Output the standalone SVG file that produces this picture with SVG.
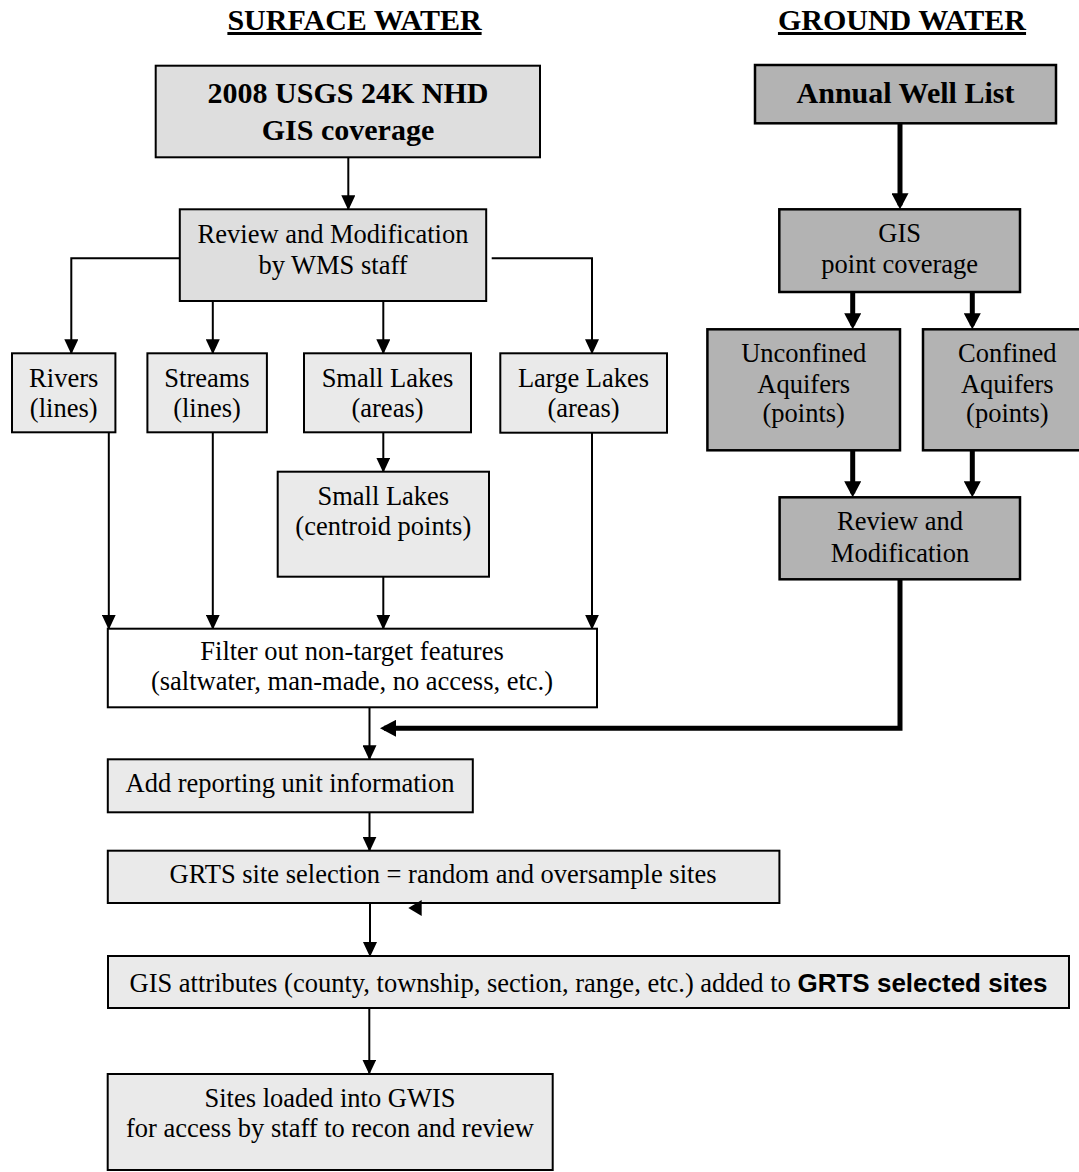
<svg xmlns="http://www.w3.org/2000/svg" width="1079" height="1172" viewBox="0 0 1079 1172">
<style>
  .t{font-family:"Liberation Serif","Times New Roman",serif;font-size:26.5px;text-anchor:middle;fill:#000}
  .bt{font-weight:bold;font-size:30px}
  .title{font-family:"Liberation Serif","Times New Roman",serif;font-weight:bold;font-size:30px;text-anchor:middle;text-decoration:underline}
  .sans{font-family:"Liberation Sans",Arial,sans-serif;font-weight:bold;font-size:26px}
  .box{stroke:#000;stroke-width:2}
  .gw{fill:#b3b3b3;stroke:#000;stroke-width:2.5}
  .l1{fill:#dedede}
  .l2{fill:#eaeaea}
  .wh{fill:#fff}
  .c{fill:none;stroke:#000;stroke-width:2}
  .ck{fill:none;stroke:#000;stroke-width:5}
</style>
<defs>
  <marker id="a" markerUnits="userSpaceOnUse" markerWidth="15" markerHeight="14" refX="14" refY="7" orient="auto">
    <path d="M0,0 L15,7 L0,14 z" fill="#000"/>
  </marker>
  <marker id="ak" markerUnits="userSpaceOnUse" markerWidth="16" markerHeight="17" refX="12" refY="8.5" orient="auto">
    <path d="M0,0 L16,8.5 L0,17 z" fill="#000"/>
  </marker>
</defs>
<rect width="1079" height="1172" fill="#fff"/>

<g id="titles">
  <text class="title" x="354.5" y="30">SURFACE WATER</text>
  <text class="title" x="902" y="30">GROUND WATER</text>
</g>

<g id="connectors">
  <line class="c" x1="348.3" y1="157.3" x2="348.3" y2="209.3" marker-end="url(#a)"/>
  <path class="c" d="M180,258.3 H71.3 V353.3" marker-end="url(#a)"/>
  <line class="c" x1="212.8" y1="301" x2="212.8" y2="353.3" marker-end="url(#a)"/>
  <line class="c" x1="383.3" y1="301" x2="383.3" y2="353.3" marker-end="url(#a)"/>
  <path class="c" d="M491.7,258.3 H592 V353.3" marker-end="url(#a)"/>
  <line class="c" x1="383.3" y1="432.5" x2="383.3" y2="471.7" marker-end="url(#a)"/>
  <line class="c" x1="108.8" y1="432.3" x2="108.8" y2="628.7" marker-end="url(#a)"/>
  <line class="c" x1="212.8" y1="432.3" x2="212.8" y2="628.7" marker-end="url(#a)"/>
  <line class="c" x1="383.3" y1="576.7" x2="383.3" y2="628.7" marker-end="url(#a)"/>
  <line class="c" x1="592" y1="432.7" x2="592" y2="628.7" marker-end="url(#a)"/>
  <line class="c" x1="369.5" y1="707.3" x2="369.5" y2="759.3" marker-end="url(#a)"/>
  <line class="c" x1="369.5" y1="812.3" x2="369.5" y2="850.7" marker-end="url(#a)"/>
  <line class="c" x1="370" y1="903" x2="370" y2="956" marker-end="url(#a)"/>
  <line class="c" x1="369.3" y1="1008" x2="369.3" y2="1073.5" marker-end="url(#a)"/>
  <line class="ck" x1="900" y1="123.3" x2="900" y2="205.3" marker-end="url(#ak)"/>
  <line class="ck" x1="852.7" y1="292" x2="852.7" y2="325.3" marker-end="url(#ak)"/>
  <line class="ck" x1="972.3" y1="292" x2="972.3" y2="325.3" marker-end="url(#ak)"/>
  <line class="ck" x1="852.7" y1="450" x2="852.7" y2="493.3" marker-end="url(#ak)"/>
  <line class="ck" x1="972.3" y1="450" x2="972.3" y2="493.3" marker-end="url(#ak)"/>
  <path class="ck" d="M900,579.3 V728.3 H384" marker-end="url(#ak)"/>
</g>

<g id="nhd">
  <rect class="box l1" x="155.7" y="65.7" width="384.3" height="91.6"/>
  <text class="t bt" x="348" y="103.3">2008 USGS 24K NHD</text>
  <text class="t bt" x="348" y="140">GIS coverage</text>
</g>
<g id="review-wms">
  <rect class="box l1" x="179.8" y="209.3" width="306.4" height="91.7"/>
  <text class="t" x="333" y="242.7">Review and Modification</text>
  <text class="t" x="333" y="274">by WMS staff</text>
</g>
<g id="rivers">
  <rect class="box l2" x="12" y="353.3" width="103.4" height="79"/>
  <text class="t" x="63.7" y="387">Rivers</text>
  <text class="t" x="63.7" y="417">(lines)</text>
</g>
<g id="streams">
  <rect class="box l2" x="147.4" y="353.3" width="119.5" height="79"/>
  <text class="t" x="207" y="387">Streams</text>
  <text class="t" x="207" y="417">(lines)</text>
</g>
<g id="small-lakes">
  <rect class="box l2" x="304" y="353.3" width="167" height="79"/>
  <text class="t" x="387.5" y="387">Small Lakes</text>
  <text class="t" x="387.5" y="417">(areas)</text>
</g>
<g id="large-lakes">
  <rect class="box l2" x="500.3" y="353.3" width="166.7" height="79.4"/>
  <text class="t" x="583.5" y="387">Large Lakes</text>
  <text class="t" x="583.5" y="417">(areas)</text>
</g>
<g id="small-lakes-centroid">
  <rect class="box l2" x="277.7" y="471.7" width="211.3" height="105"/>
  <text class="t" x="383.3" y="505">Small Lakes</text>
  <text class="t" x="383.3" y="534.5">(centroid points)</text>
</g>
<g id="filter">
  <rect class="box wh" x="107.8" y="628.7" width="489.2" height="78.6"/>
  <text class="t" x="352" y="660">Filter out non-target features</text>
  <text class="t" x="352" y="690">(saltwater, man-made, no access, etc.)</text>
</g>
<g id="add-reporting">
  <rect class="box l2" x="107.8" y="759.3" width="365" height="53"/>
  <text class="t" x="290" y="791.7">Add reporting unit information</text>
</g>
<g id="grts">
  <rect class="box l2" x="107.8" y="850.7" width="671.6" height="52.3"/>
  <text class="t" x="443" y="882.7">GRTS site selection = random and oversample sites</text>
  <path d="M408.3,908 L421.7,900 L421.7,916 z" fill="#000"/>
</g>
<g id="gis-attributes">
  <rect class="box l2" x="108" y="956" width="961" height="52"/>
  <text class="t" x="588.5" y="991.7">GIS attributes (county, township, section, range, etc.) added to <tspan class="sans">GRTS selected sites</tspan></text>
</g>
<g id="gwis">
  <rect class="box l2" x="107.7" y="1074" width="445" height="96"/>
  <text class="t" x="330" y="1106.7">Sites loaded into GWIS</text>
  <text class="t" x="330" y="1136.7">for access by staff to recon and review</text>
</g>

<g id="annual-well-list">
  <rect class="gw" x="755" y="65" width="301" height="58.3"/>
  <text class="t bt" x="905.5" y="103.3">Annual Well List</text>
</g>
<g id="gis-point">
  <rect class="gw" x="779.3" y="209.3" width="240.7" height="82.7"/>
  <text class="t" x="899.7" y="242">GIS</text>
  <text class="t" x="899.7" y="273.3">point coverage</text>
</g>
<g id="unconfined">
  <rect class="gw" x="707.4" y="329.3" width="192.6" height="121"/>
  <text class="t" x="803.7" y="362.3">Unconfined</text>
  <text class="t" x="803.7" y="393.3">Aquifers</text>
  <text class="t" x="803.7" y="422">(points)</text>
</g>
<g id="confined">
  <rect class="gw" x="923" y="329.3" width="170" height="121"/>
  <text class="t" x="1007.3" y="362.3">Confined</text>
  <text class="t" x="1007.3" y="393.3">Aquifers</text>
  <text class="t" x="1007.3" y="422">(points)</text>
</g>
<g id="review-gw">
  <rect class="gw" x="779.6" y="497.3" width="240.4" height="82"/>
  <text class="t" x="900" y="530">Review and</text>
  <text class="t" x="900" y="562.3">Modification</text>
</g>
</svg>
